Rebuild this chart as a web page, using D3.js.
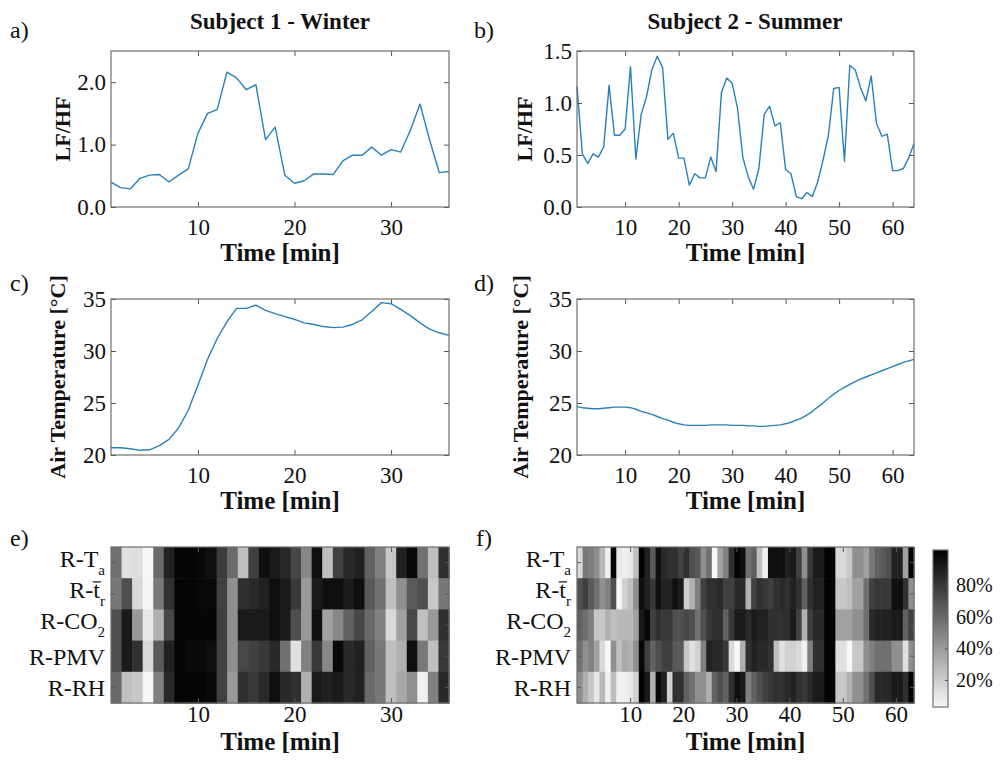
<!DOCTYPE html>
<html>
<head>
<meta charset="utf-8">
<script src="https://cdn.jsdelivr.net/npm/d3@7"></script>
<style>
  body { margin: 0; background: #fff; }
  svg text { font-family: "Liberation Serif", "Times New Roman", serif; fill: #111; }
  .tick text { font-size: 23px; }
  .cbar .tick text { font-size: 20px; }
  .title { font-size: 23px; font-weight: bold; }
  .xlab { font-size: 25px; font-weight: bold; }
  .ylab { font-size: 22px; font-weight: bold; }
  .letter, .rowlab { font-size: 24px; }
  .axis path { display: none; }
  .axis line { stroke: #555; stroke-width: 1; }
  .box { fill: none; stroke: #6e6e6e; stroke-width: 1.2; }
  .line { fill: none; stroke: #2a80b9; stroke-width: 1.4; stroke-linejoin: round; }
</style>
</head>
<body>
<svg id="chart" width="1000" height="765"></svg>
<script>
// LF/HF ratio, one value per minute
const winterLfHf = [0.40, 0.31, 0.29, 0.46, 0.51, 0.52, 0.40, 0.51, 0.61, 1.18,
    1.50, 1.56, 2.16, 2.07, 1.88, 1.96, 1.08, 1.28, 0.51, 0.38,
    0.42, 0.53, 0.53, 0.52, 0.74, 0.83, 0.83, 0.96, 0.83, 0.92,
    0.88, 1.23, 1.65, 1.07, 0.55, 0.57];
const summerLfHf = [1.16, 0.51, 0.42, 0.51, 0.48, 0.58, 1.17, 0.69, 0.69, 0.75,
    1.35, 0.46, 0.89, 1.06, 1.32, 1.45, 1.34, 0.65, 0.71, 0.47,
    0.47, 0.21, 0.32, 0.28, 0.28, 0.48, 0.34, 1.10, 1.24, 1.19,
    0.95, 0.48, 0.29, 0.17, 0.37, 0.89, 0.97, 0.78, 0.81, 0.36,
    0.32, 0.10, 0.08, 0.14, 0.10, 0.24, 0.45, 0.69, 1.14, 1.15,
    0.44, 1.36, 1.32, 1.15, 1.02, 1.26, 0.80, 0.68, 0.70, 0.35,
    0.35, 0.37, 0.47, 0.61];

// air temperature [°C]
const winterTemp = [20.7, 20.7, 20.6, 20.45, 20.5, 20.9, 21.5, 22.6, 24.3, 26.7,
    29.2, 31.2, 32.8, 34.1, 34.1, 34.4, 33.9, 33.6, 33.3, 33.05,
    32.7, 32.55, 32.35, 32.25, 32.3, 32.55, 33.0, 33.8, 34.65, 34.55,
    34.0, 33.4, 32.7, 32.1, 31.75, 31.5];
const summerTemp = [24.65, 24.55, 24.5, 24.45, 24.45, 24.5, 24.55, 24.6, 24.6, 24.6,
    24.55, 24.4, 24.2, 24.05, 23.9, 23.7, 23.5, 23.35, 23.15, 23.0,
    22.9, 22.85, 22.85, 22.85, 22.85, 22.9, 22.9, 22.9, 22.9, 22.85,
    22.85, 22.85, 22.8, 22.8, 22.75, 22.75, 22.8, 22.85, 22.9, 23.0,
    23.15, 23.35, 23.55, 23.85, 24.2, 24.6, 25.0, 25.45, 25.85, 26.2,
    26.5, 26.8, 27.05, 27.3, 27.5, 27.7, 27.9, 28.1, 28.3, 28.5,
    28.7, 28.9, 29.05, 29.2];

// correlation heatmaps [%], one array per row
const winterRTa  = [56, 12, 13, 3, 59, 87, 98, 98, 97, 94, 77, 58, 25, 75, 94, 90, 84, 72, 47, 94, 25, 75, 84, 87, 62, 50, 22, 87, 97, 56, 25, 81];
const winterRTr  = [53, 69, 15, 4, 53, 81, 98, 98, 97, 97, 75, 44, 81, 84, 87, 94, 90, 78, 40, 90, 94, 94, 90, 94, 65, 56, 25, 44, 65, 69, 22, 53];
const winterRCO2 = [69, 90, 40, 9, 31, 72, 98, 98, 98, 98, 75, 44, 90, 90, 90, 94, 90, 69, 40, 94, 37, 47, 62, 72, 59, 50, 15, 37, 72, 25, 40, 81];
const winterRPMV = [69, 90, 81, 15, 65, 87, 98, 96, 96, 94, 75, 44, 72, 75, 78, 84, 56, 12, 50, 78, 47, 97, 84, 87, 62, 53, 25, 31, 94, 53, 25, 78];
const winterRRH  = [59, 25, 22, 3, 50, 84, 98, 98, 98, 97, 75, 40, 81, 78, 84, 94, 84, 81, 31, 90, 87, 90, 84, 87, 59, 53, 25, 34, 44, 6, 50, 84];

const summerRTa  = [15, 53, 50, 44, 28, 6, 99, 9, 6, 9, 25, 99, 87, 65, 94, 84, 81, 81, 75, 81,
    69, 65, 44, 56, 3, 37, 50, 81, 98, 94, 56, 62, 25, 6, 94, 94, 94, 87, 90, 75,
    44, 78, 90, 90, 99, 99, 15, 15, 22, 44, 44, 37, 53, 62, 65, 69, 87, 87, 37, 99];
const summerRTr  = [69, 75, 65, 56, 44, 50, 69, 3, 18, 25, 44, 94, 87, 78, 94, 87, 87, 94, 90, 20,
    31, 50, 75, 81, 81, 84, 75, 75, 84, 84, 31, 75, 81, 78, 75, 81, 84, 81, 87, 81,
    62, 81, 87, 87, 99, 99, 22, 22, 25, 37, 37, 56, 75, 78, 78, 78, 94, 94, 81, 44];
const summerRCO2 = [62, 56, 50, 22, 22, 31, 25, 28, 28, 28, 37, 90, 97, 75, 81, 78, 78, 69, 69, 72,
    69, 56, 69, 78, 81, 81, 62, 78, 90, 90, 84, 90, 87, 87, 81, 81, 81, 81, 90, 75,
    31, 75, 84, 84, 99, 99, 37, 37, 37, 44, 44, 56, 84, 87, 87, 87, 90, 90, 62, 75];
const summerRPMV = [56, 44, 50, 37, 15, 3, 44, 25, 34, 31, 44, 97, 75, 62, 69, 75, 75, 65, 65, 22,
    12, 18, 50, 87, 84, 84, 78, 15, 3, 31, 81, 87, 84, 84, 81, 25, 12, 18, 18, 15,
    6, 50, 81, 81, 99, 99, 12, 12, 3, 22, 22, 44, 50, 56, 56, 56, 44, 44, 12, 44];
const summerRRH  = [44, 31, 22, 9, 28, 6, 25, 6, 6, 9, 18, 99, 90, 31, 97, 87, 18, 81, 81, 62,
    56, 44, 44, 31, 62, 69, 62, 81, 94, 90, 50, 62, 69, 75, 78, 81, 81, 84, 87, 81,
    78, 84, 90, 90, 99, 99, 22, 22, 31, 44, 44, 56, 69, 84, 84, 84, 90, 90, 81, 99];

// row labels: main text, optional overlined letter, optional subscript
const rowLabels = [
    { text: "R-T", sub: "a" },
    { text: "R-", bar: "t", sub: "r" },
    { text: "R-CO", sub: "2" },
    { text: "R-PMV" },
    { text: "R-RH" }
];

const winterTicks = [10, 20, 30];
const summerTicks = [10, 20, 30, 40, 50, 60];
const lfhfTicksWinter = [0, 1, 2];
const lfhfTicksSummer = [0, 0.5, 1, 1.5];
const tempTicks = [20, 25, 30, 35];
const colorbarTicks = [20, 40, 60, 80];

const svg = d3.select("#chart");
svg.append("rect").attr("width", 1000).attr("height", 765).attr("fill", "#fff");

const shade = d3.scaleLinear().domain([0, 100]).range(["#ffffff", "#000000"]).clamp(true);

function frame(o, x, y, xPad, labels) {
    // bottom + top x ticks (inward)
    svg.append("g").attr("class", "axis")
        .attr("transform", "translate(0," + o.bottom + ")")
        .call(d3.axisBottom(x).tickValues(o.xTicks).tickSizeInner(-5).tickSizeOuter(0)
            .tickPadding(xPad).tickFormat(d3.format("d")));
    svg.append("g").attr("class", "axis")
        .attr("transform", "translate(0," + o.top + ")")
        .call(d3.axisTop(x).tickValues(o.xTicks).tickSizeInner(-5).tickSizeOuter(0).tickFormat(""));

    if (labels) {
        svg.append("g").attr("class", "axis")
            .attr("transform", "translate(" + o.left + ",0)")
            .call(d3.axisLeft(y).tickValues(o.yTicks).tickSizeInner(-5).tickSizeOuter(0)
                .tickPadding(5).tickFormat(d3.format(o.yFmt)));
        svg.append("g").attr("class", "axis")
            .attr("transform", "translate(" + o.right + ",0)")
            .call(d3.axisRight(y).tickValues(o.yTicks).tickSizeInner(-5).tickSizeOuter(0).tickFormat(""));
    }

    svg.append("rect").attr("class", "box")
        .attr("x", o.left).attr("y", o.top)
        .attr("width", o.right - o.left).attr("height", o.bottom - o.top);

    svg.append("text").attr("class", "letter")
        .attr("x", o.letterX).attr("y", o.letterY).text(o.letter);
}

function linePanel(o) {
    let x = d3.scaleLinear().domain(o.xDomain).range([o.left, o.right]);
    let y = d3.scaleLinear().domain(o.yDomain).range([o.bottom, o.top]);

    svg.append("path")
        .datum(o.values)
        .attr("class", "line")
        .attr("d", d3.line()
            .x((d, i) => x(i + 1))
            .y(d => y(d)));

    frame(o, x, y, 12, true);

    svg.append("text").attr("class", "xlab")
        .attr("x", (o.left + o.right) / 2).attr("y", o.bottom + 54)
        .attr("text-anchor", "middle").text("Time [min]");

    svg.append("text").attr("class", "ylab")
        .attr("transform", "translate(" + o.yLabelX + "," + (o.top + o.bottom) / 2 + ") rotate(-90)")
        .attr("text-anchor", "middle").attr("dy", "0.35em").text(o.yLabel);
}

function heatPanel(o) {
    let cols = d3.range(o.rows[0].length);
    let xb = d3.scaleBand().domain(cols).range([o.left, o.right]);
    let yb = d3.scaleBand().domain(d3.range(o.rows.length)).range([o.top, o.bottom]);
    let x = d3.scaleLinear().domain(o.xDomain).range([o.left, o.right]);

    o.rows.forEach((row, r) => {
        svg.append("g").selectAll("rect")
            .data(row)
            .join("rect")
            .attr("x", (d, i) => xb(i))
            .attr("y", yb(r))
            .attr("width", xb.bandwidth() + 0.6)
            .attr("height", yb.bandwidth() + 0.6)
            .attr("fill", d => shade(d));
    });

    yb.domain().forEach(r => {
        let cy = yb(r) + yb.bandwidth() / 2;
        svg.append("line").attr("x1", o.left).attr("x2", o.left + 4)
            .attr("y1", cy).attr("y2", cy).attr("stroke", "#555");
        svg.append("line").attr("x1", o.right).attr("x2", o.right - 4)
            .attr("y1", cy).attr("y2", cy).attr("stroke", "#555");

        let lab = rowLabels[r];
        let t = svg.append("text").attr("class", "rowlab")
            .attr("x", o.left - 6).attr("y", cy)
            .attr("text-anchor", "end")
            .attr("dy", lab.sub ? "0.17em" : "0.35em");
        t.append("tspan").text(lab.text);
        if (lab.bar) t.append("tspan").text(lab.bar);
        if (lab.sub) t.append("tspan").attr("font-size", "15px").attr("dy", 8).text(lab.sub);

        // overline above the barred letter
        if (lab.bar) {
            let box = t.node().getExtentOfChar(lab.text.length);
            svg.append("line")
                .attr("x1", box.x - 0.5).attr("x2", box.x + box.width + 1)
                .attr("y1", box.y + 5).attr("y2", box.y + 5)
                .attr("stroke", "#111").attr("stroke-width", 1.2);
        }
    });

    frame(o, x, null, 3, false);

    svg.append("text").attr("class", "xlab")
        .attr("x", (o.left + o.right) / 2).attr("y", o.bottom + 47)
        .attr("text-anchor", "middle").text("Time [min]");
}

// titles
svg.append("text").attr("class", "title").attr("x", 280).attr("y", 29)
    .attr("text-anchor", "middle").text("Subject 1 - Winter");
svg.append("text").attr("class", "title").attr("x", 745).attr("y", 29)
    .attr("text-anchor", "middle").text("Subject 2 - Summer");

linePanel({ left: 111, right: 449, top: 51, bottom: 207,
    xDomain: [1, 36], yDomain: [0, 2.5], xTicks: winterTicks, yTicks: lfhfTicksWinter, yFmt: ".1f",
    values: winterLfHf, yLabel: "LF/HF", yLabelX: 62, letter: "a)", letterX: 10, letterY: 38 });

linePanel({ left: 577, right: 914, top: 51, bottom: 207,
    xDomain: [1, 64], yDomain: [0, 1.5], xTicks: summerTicks, yTicks: lfhfTicksSummer, yFmt: ".1f",
    values: summerLfHf, yLabel: "LF/HF", yLabelX: 524, letter: "b)", letterX: 474, letterY: 38 });

linePanel({ left: 111, right: 449, top: 299, bottom: 455,
    xDomain: [1, 36], yDomain: [20, 35], xTicks: winterTicks, yTicks: tempTicks, yFmt: "d",
    values: winterTemp, yLabel: "Air Temperature [°C]", yLabelX: 57, letter: "c)", letterX: 10, letterY: 291 });

linePanel({ left: 577, right: 914, top: 299, bottom: 455,
    xDomain: [1, 64], yDomain: [20, 35], xTicks: summerTicks, yTicks: tempTicks, yFmt: "d",
    values: summerTemp, yLabel: "Air Temperature [°C]", yLabelX: 520, letter: "d)", letterX: 474, letterY: 291 });

heatPanel({ left: 111, right: 449, top: 547, bottom: 703,
    xDomain: [1, 36], xTicks: winterTicks,
    rows: [winterRTa, winterRTr, winterRCO2, winterRPMV, winterRRH],
    letter: "e)", letterX: 10, letterY: 546 });

heatPanel({ left: 577, right: 914, top: 547, bottom: 703,
    xDomain: [0, 63.4], xTicks: summerTicks,
    rows: [summerRTa, summerRTr, summerRCO2, summerRPMV, summerRRH],
    letter: "f)", letterX: 476, letterY: 546 });

// colorbar
const cb = { left: 933, right: 948, top: 550, bottom: 707 };
const cbScale = d3.scaleLinear().domain([3, 102]).range([cb.bottom, cb.top]);
const grad = svg.append("defs").append("linearGradient")
    .attr("id", "cbgrad").attr("x1", 0).attr("y1", 1).attr("x2", 0).attr("y2", 0);
grad.append("stop").attr("offset", 0).attr("stop-color", shade(cbScale.domain()[0]));
grad.append("stop").attr("offset", 1).attr("stop-color", shade(cbScale.domain()[1]));
svg.append("rect").attr("x", cb.left).attr("y", cb.top)
    .attr("width", cb.right - cb.left).attr("height", cb.bottom - cb.top)
    .attr("fill", "url(#cbgrad)");
svg.append("g").attr("class", "axis cbar")
    .attr("transform", "translate(" + cb.right + ",0)")
    .call(d3.axisRight(cbScale).tickValues(colorbarTicks).tickSizeInner(-3).tickSizeOuter(0)
        .tickPadding(8).tickFormat(d => d + "%"));
svg.append("rect").attr("class", "box").attr("x", cb.left).attr("y", cb.top)
    .attr("width", cb.right - cb.left).attr("height", cb.bottom - cb.top);
</script>
</body>
</html>
